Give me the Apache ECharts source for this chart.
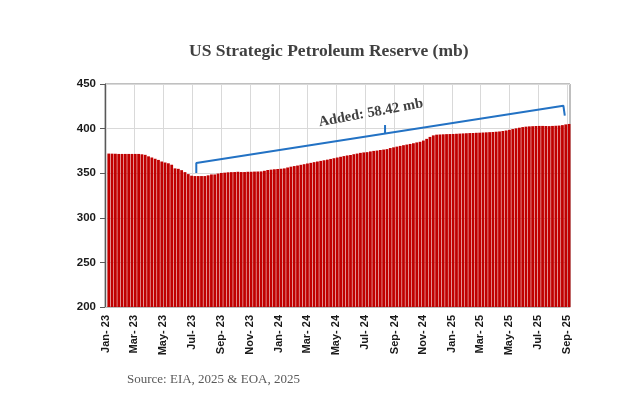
<!DOCTYPE html>
<html>
<head>
<meta charset="utf-8">
<script src="https://cdn.jsdelivr.net/npm/echarts@6/dist/echarts.min.js"></script>
<style>
html,body{margin:0;padding:0;background:#fff;}
#chart{width:624px;height:409px;}
</style>
</head>
<body>
<div id="chart"></div>
<script>
// Weekly SPR stocks (million barrels), weeks ending Fridays from 2023-01-06
const firstWeek = '2023-01-06';
const spr2023 = [
  372.0, 371.9, 371.8, 371.6,
  371.6, 371.6, 371.6, 371.6,
  371.6, 371.6, 371.2, 370.6, 368.9,
  367.6, 366.2, 364.9, 363.1,
  362.0, 361.1, 359.5, 355.4,
  354.9, 353.4, 351.2, 349.0, 347.2,
  346.8, 346.8, 346.8, 346.8,
  347.6, 348.6, 348.6, 349.6,
  350.3, 350.6, 351.0, 351.2, 351.3,
  351.6, 351.3, 351.3, 351.6,
  351.6, 351.8, 351.9, 352.0,
  352.7, 353.6, 354.0, 354.4, 354.7
];
const spr2024 = [
  355.0, 355.4, 356.4, 357.3,
  358.0, 358.6, 359.4, 360.1,
  360.9, 361.6, 362.4, 363.1, 363.8,
  364.5, 365.2, 366.0, 366.8,
  367.6, 368.4, 369.2, 369.9, 370.4,
  371.3, 372.0, 372.8, 373.3,
  373.6, 374.4, 375.0, 375.4,
  376.0, 376.5, 377.0, 378.2, 379.0,
  379.8, 380.6, 381.4, 382.1,
  382.8, 383.6, 384.5, 385.2,
  386.6, 388.5, 390.7, 392.4, 393.2,
  393.4, 393.6, 393.8, 393.9
];
const spr2025 = [
  394.0, 394.2, 394.4, 394.6, 394.8,
  395.0, 395.1, 395.3, 395.4,
  395.6, 395.8, 396.0, 396.2,
  396.5, 396.8, 397.3, 397.9,
  398.6, 399.5, 400.3, 401.0, 401.7,
  402.2, 402.5, 402.7, 402.9,
  403.0, 403.0, 402.9, 402.8,
  403.0, 403.2, 403.4, 403.9, 404.7,
  405.2
];
const sprValues = spr2023.concat(spr2024, spr2025);

// x-axis tick positions and labels (every two months)
const tickDates = [
  '2023-01-01','2023-03-01','2023-05-01','2023-07-01','2023-09-01','2023-11-01',
  '2024-01-01','2024-03-01','2024-05-01','2024-07-01','2024-09-01','2024-11-01',
  '2025-01-01','2025-03-01','2025-05-01','2025-07-01','2025-09-01'
];
const tickLabels = [
  'Jan- 23','Mar- 23','May- 23','Jul- 23','Sep- 23','Nov- 23',
  'Jan- 24','Mar- 24','May- 24','Jul- 24','Sep- 24','Nov- 24',
  'Jan- 25','Mar- 25','May- 25','Jul- 25','Sep- 25'
];
const xRange = ['2022-12-29', '2025-09-07'];

// annotation bracket (data coordinates)
const bracketPath = [['2023-07-10', 350.2], ['2023-07-10', 361.4], ['2025-08-24', 425.7], ['2025-08-27', 414.5]];
const bracketMid = [['2024-08-12', 394.4], ['2024-08-12', 404.0]];
const annotationText = 'Added: 58.42 mb';
const annotationAnchor = ['2024-07-13', 417.5];

const DAY = 86400000;
const ts = s => Date.parse(s);
const start = ts(firstWeek);
const barData = sprValues.map((v, i) => [start + i * 7 * DAY, v]);
const tickTs = tickDates.map(ts);
function labelFor(val) {
  for (let i = 0; i < tickTs.length; i++) {
    if (Math.abs(tickTs[i] - val) < DAY / 2) return tickLabels[i];
  }
  return '';
}
const toXY = pts => pts.map(p => [ts(p[0]), p[1]]);

const chart = echarts.init(document.getElementById('chart'), null, {renderer: 'canvas'});
chart.setOption({
  animation: false,
  backgroundColor: '#ffffff',
  title: {
    text: 'US Strategic Petroleum Reserve (mb)',
    left: 184,
    top: 37,
    textStyle: {fontFamily: 'Liberation Serif', fontWeight: 'bold', fontSize: 17.5, color: '#404040'}
  },
  grid: {
    left: 105, right: 54, top: 84, bottom: 102,
    show: true, borderColor: '#808080', borderWidth: 1,
    containLabel: false, outerBoundsMode: 'none'
  },
  xAxis: {
    type: 'value',
    min: ts(xRange[0]),
    max: ts(xRange[1]),
    axisLine: {show: true, onZero: false, lineStyle: {color: '#bfbfbf'}},
    axisTick: {show: false, customValues: tickTs},
    axisLabel: {
      customValues: tickTs,
      rotate: 90,
      margin: 8,
      formatter: function (val) { return labelFor(val); },
      fontFamily: 'Liberation Sans', fontWeight: 'bold', fontSize: 11, color: '#1a1a1a',
      hideOverlap: false
    },
    splitLine: {show: true, lineStyle: {color: '#d9d9d9', width: 1}}
  },
  yAxis: {
    type: 'value',
    min: 200, max: 450, interval: 50,
    axisLine: {show: true, lineStyle: {color: '#595959'}},
    axisTick: {show: true, length: 5, lineStyle: {color: '#595959'}},
    axisLabel: {
      margin: 9,
      fontFamily: 'Liberation Sans', fontWeight: 'bold', fontSize: 11.5, color: '#1a1a1a'
    },
    splitLine: {show: true, lineStyle: {color: '#d9d9d9', width: 1}}
  },
  series: [
    {
      type: 'bar',
      data: barData,
      barWidth: 2.8,
      itemStyle: {color: '#c00000'},
      silent: true,
      z: 2
    },
    {
      type: 'line',
      data: toXY(bracketPath),
      symbol: 'none',
      silent: true,
      lineStyle: {color: '#2372c4', width: 2},
      z: 5
    },
    {
      type: 'line',
      data: toXY(bracketMid),
      symbol: 'none',
      silent: true,
      lineStyle: {color: '#2372c4', width: 2},
      z: 5
    }
  ]
});

const p = chart.convertToPixel({gridIndex: 0}, [ts(annotationAnchor[0]), annotationAnchor[1]]);
chart.setOption({
  graphic: [
    {
      type: 'text',
      left: 127,
      top: 373,
      style: {text: 'Source: EIA, 2025 & EOA, 2025', font: '13px "Liberation Serif"', fill: '#595959'}
    },
    {
      type: 'text',
      x: p[0], y: p[1],
      rotation: 10.5 * Math.PI / 180,
      style: {
        text: annotationText,
        font: 'bold 14.5px "Liberation Serif"',
        fill: '#404040',
        align: 'center',
        verticalAlign: 'middle'
      },
      z: 10
    }
  ]
});
</script>
</body>
</html>
